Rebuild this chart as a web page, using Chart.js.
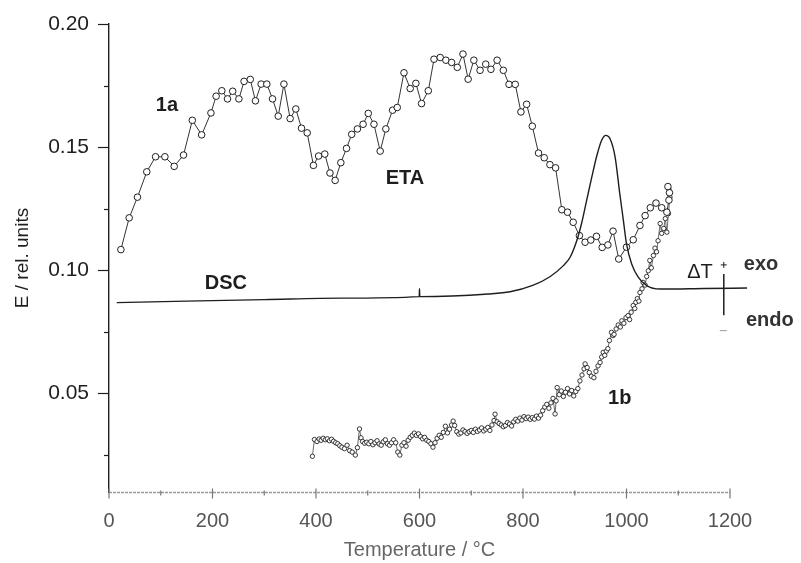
<!DOCTYPE html>
<html>
<head>
<meta charset="utf-8">
<script src="https://cdn.jsdelivr.net/npm/chart.js@4"></script>
<style>
  html, body { margin: 0; padding: 0; background: #fff; }
  #wrap { width: 801px; height: 563px; }
</style>
</head>
<body>
<div id="wrap"><canvas id="myChart" width="801" height="563"></canvas></div>
<script>
// tick values
const xTicks = [0, 200, 400, 600, 800, 1000, 1200];
const xMinorTicks = [100, 300, 500, 700, 900, 1100];
const yTicks = [0.05, 0.10, 0.15, 0.20];
const yMinorTicks = [0.025, 0.075, 0.125, 0.175];

// ETA curve 1a (temperature, E)
const etaTemp = [23, 39, 55, 73, 90, 108, 126, 144, 161, 179, 197, 207, 218, 229, 239, 251, 261, 273, 283, 294,
  305, 316, 327, 338, 350, 361, 372, 383, 395, 405, 417, 427, 437, 448, 459, 469, 480, 491, 501, 512,
  524, 535, 548, 557, 570, 582, 593, 604, 617, 628, 640, 651, 662, 673, 684, 694, 705, 717, 728, 738,
  750, 762, 773, 785, 796, 807, 818, 830, 841, 852, 863, 875, 886, 897, 909, 920, 931, 942, 953, 964,
  974, 985, 1000, 1013, 1026, 1036, 1046, 1057, 1068, 1078, 1082, 1083, 1080];
const etaE = [0.1084, 0.1213, 0.1297, 0.1400, 0.1461, 0.1461, 0.1422, 0.1468, 0.1609, 0.1550, 0.1639, 0.1707, 0.1729, 0.1696, 0.1727, 0.1696, 0.1767, 0.1775, 0.1688, 0.1756,
  0.1756, 0.1696, 0.1626, 0.1756, 0.1616, 0.1655, 0.1577, 0.1558, 0.1426, 0.1464, 0.1472, 0.1395, 0.1365, 0.1437, 0.1495, 0.1552, 0.1574, 0.1593, 0.1637, 0.1593,
  0.1484, 0.1574, 0.1650, 0.1661, 0.1802, 0.1738, 0.1759, 0.1677, 0.1729, 0.1857, 0.1864, 0.1853, 0.1844, 0.1824, 0.1878, 0.1776, 0.1853, 0.1812, 0.1837, 0.1816,
  0.1853, 0.1812, 0.1755, 0.1755, 0.1643, 0.1674, 0.1585, 0.1476, 0.1457, 0.1429, 0.1416, 0.1246, 0.1236, 0.1195, 0.1141, 0.1114, 0.1123, 0.1138, 0.1093, 0.1103,
  0.1159, 0.1046, 0.1094, 0.1124, 0.1182, 0.1222, 0.1254, 0.1273, 0.1254, 0.1236, 0.1285, 0.1315, 0.1340];

// ETA curve 1b
const eta2Temp = [393, 397, 402, 406, 410, 414, 418, 422, 426, 430, 434, 438, 442, 446, 450, 455, 460, 465, 470, 476,
  480, 484, 487, 490, 494, 498, 502, 506, 510, 514, 518, 522, 526, 530, 534, 538, 542, 546, 550, 554,
  558, 562, 566, 570, 574, 578, 582, 586, 590, 594, 598, 602, 606, 610, 614, 618, 622, 626, 630, 634,
  638, 642, 646, 650, 654, 658, 662, 665, 668, 672, 676, 680, 684, 688, 692, 696, 700, 704, 708, 712,
  716, 720, 724, 728, 732, 736, 740, 744, 746, 750, 754, 758, 762, 766, 770, 774, 778, 782, 786, 790,
  794, 798, 802, 806, 810, 814, 818, 822, 826, 830, 834, 838, 842, 846, 850, 854, 858, 862, 864, 866,
  870, 874, 878, 882, 886, 890, 894, 898, 902, 906, 910, 914, 918, 920, 924, 928, 932, 937, 941, 945,
  949, 952, 955, 958, 961, 964, 967, 971, 974, 976, 980, 984, 988, 991, 995, 999, 1003, 1006, 1009, 1013,
  1016, 1018, 1021, 1024, 1026, 1030, 1032, 1036, 1039, 1042, 1045, 1048, 1052, 1055, 1058, 1061, 1065, 1068, 1072, 1075,
  1078, 1081, 1084, 1082];
const eta2E = [0.0245, 0.0313, 0.0305, 0.0315, 0.0310, 0.0318, 0.0312, 0.0316, 0.0308, 0.0314, 0.0306, 0.0300, 0.0296, 0.0288, 0.0282, 0.0276, 0.0290, 0.0268, 0.0262, 0.0250,
  0.0280, 0.0356, 0.0320, 0.0305, 0.0298, 0.0302, 0.0296, 0.0305, 0.0292, 0.0300, 0.0308, 0.0295, 0.0290, 0.0304, 0.0312, 0.0296, 0.0290, 0.0300, 0.0312, 0.0300,
  0.0262, 0.0250, 0.0290, 0.0300, 0.0286, 0.0310, 0.0322, 0.0330, 0.0339, 0.0330, 0.0336, 0.0325, 0.0316, 0.0322, 0.0310, 0.0305, 0.0296, 0.0282, 0.0300, 0.0318,
  0.0330, 0.0322, 0.0342, 0.0367, 0.0340, 0.0355, 0.0372, 0.0388, 0.0370, 0.0345, 0.0335, 0.0340, 0.0352, 0.0345, 0.0338, 0.0345, 0.0350, 0.0342, 0.0355, 0.0346,
  0.0352, 0.0360, 0.0348, 0.0355, 0.0362, 0.0350, 0.0372, 0.0390, 0.0416, 0.0385, 0.0378, 0.0372, 0.0365, 0.0370, 0.0382, 0.0376, 0.0368, 0.0385, 0.0395, 0.0388,
  0.0400, 0.0392, 0.0406, 0.0398, 0.0404, 0.0395, 0.0402, 0.0396, 0.0408, 0.0400, 0.0412, 0.0430, 0.0445, 0.0456, 0.0440, 0.0462, 0.0480, 0.0417, 0.0470, 0.0524,
  0.0495, 0.0510, 0.0488, 0.0505, 0.0520, 0.0498, 0.0512, 0.0490, 0.0508, 0.0520, 0.0551, 0.0575, 0.0600, 0.0620, 0.0605, 0.0585, 0.0570, 0.0564, 0.0590, 0.0612,
  0.0626, 0.0648, 0.0667, 0.0655, 0.0672, 0.0682, 0.0715, 0.0748, 0.0735, 0.0740, 0.0762, 0.0778, 0.0770, 0.0795, 0.0785, 0.0808, 0.0816, 0.0800, 0.0830, 0.0857,
  0.0845, 0.0870, 0.0885, 0.0875, 0.0910, 0.0925, 0.0951, 0.0940, 0.0975, 0.0998, 0.1040, 0.1010, 0.1060, 0.1090, 0.1075, 0.1120, 0.1190, 0.1150, 0.1170, 0.1210,
  0.1155, 0.1230, 0.1297, 0.1330];

// DSC trace
const dscTemp = [15, 150, 300, 450, 599.4, 600, 600.6, 733, 775, 820, 852, 878, 891, 904, 913, 923, 933, 942, 952, 960,
  968, 978, 987, 994, 1000, 1010, 1023, 1039, 1065, 1150, 1233];
const dscE = [0.0869, 0.0875, 0.0881, 0.0887, 0.0893, 0.0925, 0.0893, 0.0904, 0.0913, 0.0940, 0.0974, 0.1019, 0.1053, 0.1121, 0.1189, 0.1284, 0.1379, 0.1460, 0.1528, 0.1548,
  0.1535, 0.1460, 0.1311, 0.1202, 0.1107, 0.1026, 0.0971, 0.0938, 0.0924, 0.0926, 0.0928];

const toPoints = (xs, ys) => xs.map((x, i) => ({ x: x, y: ys[i] }));

const ink = "#1e1e1e";
const fontFamily = "'Liberation Sans', Arial, Helvetica, sans-serif";

// text labels, placed in data coordinates
const notes = [
  { text: "1a", x: 112, y: 0.167, bold: true },
  { text: "ETA", x: 572, y: 0.1373, bold: true },
  { text: "DSC", x: 226, y: 0.0946, bold: true },
  { text: "1b", x: 987, y: 0.0478, bold: true },
  { text: "ΔT", x: 1142, y: 0.0991, bold: false },
  { text: "exo", x: 1260, y: 0.1025, bold: true, color: "#333" },
  { text: "endo", x: 1277, y: 0.0796, bold: true, color: "#333" }
];

const decorPlugin = {
  id: "decor",
  afterDatasetsDraw(chart) {
    const { ctx, scales: { x, y } } = chart;
    ctx.save();
    // y axis ticks
    ctx.strokeStyle = ink;
    ctx.lineWidth = 1.2;
    const ax = x.getPixelForValue(0);
    yTicks.forEach(v => {
      const p = Math.round(y.getPixelForValue(v)) + 0.5;
      ctx.beginPath(); ctx.moveTo(ax - 11, p); ctx.lineTo(ax, p); ctx.stroke();
    });
    yMinorTicks.forEach(v => {
      const p = Math.round(y.getPixelForValue(v)) + 0.5;
      ctx.beginPath(); ctx.moveTo(ax - 5, p); ctx.lineTo(ax, p); ctx.stroke();
    });
    // x axis (greyish, as in the scan)
    const by = Math.round(y.getPixelForValue(0.01)) + 0.5;
    ctx.strokeStyle = "#9a9a9a";
    ctx.lineWidth = 1.5;
    ctx.setLineDash([3, 1]);
    ctx.beginPath(); ctx.moveTo(x.getPixelForValue(0), by); ctx.lineTo(x.getPixelForValue(1200), by); ctx.stroke();
    ctx.setLineDash([]);
    ctx.strokeStyle = "#777";
    ctx.lineWidth = 1.2;
    xTicks.forEach(v => {
      const p = x.getPixelForValue(v);
      ctx.beginPath(); ctx.moveTo(p, by - 4); ctx.lineTo(p, by + 6); ctx.stroke();
    });
    xMinorTicks.forEach(v => {
      const p = x.getPixelForValue(v);
      ctx.beginPath(); ctx.moveTo(p, by - 2); ctx.lineTo(p, by + 3); ctx.stroke();
    });
    // ΔT marker
    const mx = x.getPixelForValue(1188);
    ctx.strokeStyle = ink;
    ctx.lineWidth = 1.5;
    ctx.beginPath(); ctx.moveTo(mx, y.getPixelForValue(0.0985)); ctx.lineTo(mx, y.getPixelForValue(0.0818)); ctx.stroke();
    ctx.lineWidth = 1;
    const py = y.getPixelForValue(0.1022);
    ctx.beginPath(); ctx.moveTo(mx - 3, py); ctx.lineTo(mx + 3, py); ctx.moveTo(mx, py - 3); ctx.lineTo(mx, py + 3); ctx.stroke();
    const my = y.getPixelForValue(0.0755);
    ctx.strokeStyle = "#999";
    ctx.beginPath(); ctx.moveTo(mx - 4, my); ctx.lineTo(mx + 3, my); ctx.stroke();
    // labels
    ctx.textAlign = "center";
    ctx.textBaseline = "middle";
    notes.forEach(n => {
      ctx.font = (n.bold ? "bold " : "") + "20px " + fontFamily;
      ctx.fillStyle = n.color || ink;
      ctx.fillText(n.text, x.getPixelForValue(n.x), y.getPixelForValue(n.y));
    });
    ctx.restore();
  }
};

new Chart(document.getElementById("myChart"), {
  type: "scatter",
  data: {
    datasets: [
      {
        label: "DSC",
        data: toPoints(dscTemp, dscE),
        showLine: true,
        borderColor: ink,
        borderWidth: 1.4,
        pointRadius: 0,
        cubicInterpolationMode: "monotone",
        clip: false
      },
      {
        label: "1a",
        data: toPoints(etaTemp, etaE),
        showLine: true,
        borderColor: "#333",
        borderWidth: 1,
        pointRadius: 3.3,
        pointBorderWidth: 1,
        pointBorderColor: ink,
        pointBackgroundColor: "#fff"
      },
      {
        label: "1b",
        data: toPoints(eta2Temp, eta2E),
        showLine: true,
        borderColor: "#444",
        borderWidth: 0.8,
        pointRadius: 2.2,
        pointBorderWidth: 0.9,
        pointBorderColor: "#222",
        pointBackgroundColor: "#fff"
      }
    ]
  },
  plugins: [decorPlugin],
  options: {
    responsive: false,
    animation: false,
    layout: { padding: { top: 24, right: 71, left: 0, bottom: 0 } },
    plugins: { legend: { display: false }, tooltip: { enabled: false } },
    scales: {
      x: {
        type: "linear",
        min: 0,
        max: 1200,
        afterBuildTicks: scale => { scale.ticks = xTicks.map(v => ({ value: v })); },
        afterFit: scale => { scale.height = 71; },
        grid: { display: false, drawTicks: true, tickLength: 8 },
        border: { display: false },
        ticks: { color: "#555", padding: 9, maxRotation: 0, callback: v => String(v), font: { family: fontFamily, size: 20 } },
        title: { display: true, text: "Temperature / °C", color: "#666", padding: { top: 0, bottom: 1 }, font: { family: fontFamily, size: 20 } }
      },
      y: {
        type: "linear",
        min: 0.01,
        max: 0.20,
        afterBuildTicks: scale => { scale.ticks = yTicks.map(v => ({ value: v })); },
        afterFit: scale => { scale.width = 109; },
        grid: { display: false, drawTicks: true, tickLength: 10 },
        border: { display: true, color: ink, width: 1.4 },
        ticks: { color: ink, padding: 10, callback: v => v.toFixed(2), font: { family: fontFamily, size: 21 } },
        title: { display: true, text: "E / rel. units", color: ink, padding: { top: 11, bottom: 0 }, font: { family: fontFamily, size: 19 } }
      }
    }
  }
});
</script>
</body>
</html>
